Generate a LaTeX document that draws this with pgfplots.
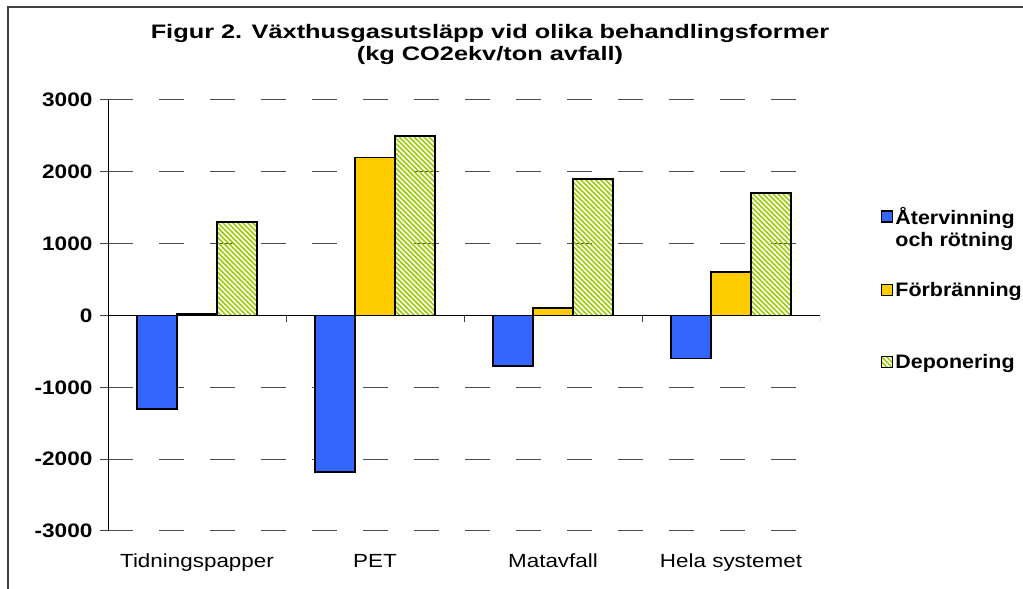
\documentclass[border=0pt]{standalone}
\usepackage{pgfplots}
\pgfplotsset{compat=1.18}
\usepackage{fontspec}
\setmainfont{Liberation Sans}[FakeStretch=1.1]
\newfontfamily\tickfont{Liberation Sans}[FakeStretch=1.16]
\newfontfamily\catfont{Liberation Sans}[FakeStretch=1.18]
\newfontfamily\titlefont{Liberation Sans}[FakeStretch=1.3]
\usetikzlibrary{patterns.meta}

\definecolor{atervinning}{HTML}{3366FF}
\definecolor{forbranning}{HTML}{FFCC00}
\definecolor{deponering}{HTML}{99CC00}

\begin{document}
\begin{tikzpicture}[x=1bp,y=1bp]
\clip (0,0) rectangle (1023,589);
% outer frame (only top and left edges are visible)
\draw[line width=1.6bp, black!75] (8,-20) -- (8,582) -- (1050,582);

\begin{axis}[
  at={(108bp,58bp)}, anchor=south west,
  scale only axis, width=712bp, height=431bp,
  xmin=-0.5, xmax=3.5, ymin=-3000, ymax=3000,
  ybar=0pt, bar width=40bp,
  axis x line*=bottom, axis y line*=left,
  x axis line style={draw=none},
  y axis line style={black, line width=1bp},
  xtick={0,1,2,3},
  xticklabels={Tidningspapper,PET,Matavfall,Hela systemet},
  xtick style={draw=none},
  xticklabel style={font=\catfont\fontsize{19bp}{22bp}\selectfont, anchor=base, yshift=-29bp},
  ytick={-3000,-2000,...,3000},
  ytick style={black!75, line width=1bp},
  tick align=outside, major tick length=8bp,
  yticklabel style={font=\tickfont\bfseries\fontsize{19.5bp}{22bp}\selectfont, xshift=-4bp,
    /pgf/number format/1000 sep={}, /pgf/number format/assume math mode=true},
  ymajorgrids,
  grid style={black!70, line width=1bp, dash pattern=on 25bp off 26bp},
  legend style={at={(1.0857,0.7566)}, anchor=north west, draw=none, fill=none,
    inner sep=0pt, row sep=52.5bp,
    font=\bfseries\fontsize{19.5bp}{22bp}\selectfont,
    nodes={align=left, inner sep=2bp}},
  legend cell align=left,
  legend image code/.code={\draw[#1, line width=1.2bp] (0bp,-5.5bp) rectangle (11bp,5.5bp);},
]
\addplot[draw=black, line width=1.8bp, fill=atervinning]
  coordinates {(0,-1300) (1,-2180) (2,-700) (3,-600)};
\addlegendentry{\rlap{\raisebox{-22bp}[0pt][0pt]{och rötning}}Återvinning}
\addplot[draw=black, line width=1.8bp, fill=forbranning]
  coordinates {(0,20) (1,2200) (2,100) (3,600)};
\addlegendentry{Förbränning}
\addplot[draw=black, line width=1.8bp,
  pattern={Lines[angle=-45,distance=3.5bp,line width=1.6bp]}, pattern color=deponering]
  coordinates {(0,1300) (1,2500) (2,1900) (3,1700)};
\addlegendentry{Deponering}

% zero line with category separators
\draw[black, line width=1.5bp] (axis cs:-0.5,0) -- (axis cs:3.5,0);
\pgfplotsinvokeforeach{0.5,1.5,2.5,3.5}{
  \draw[black!75, line width=1bp] (axis cs:#1,0) -- (axis cs:#1,-85);
}
\end{axis}

\node[font=\titlefont\bfseries\fontsize{19.5bp}{22bp}\selectfont, align=center]
  at (490,544) {Figur 2. Växthusgasutsläpp vid olika behandlingsformer\\(kg CO2ekv/ton avfall)};
\end{tikzpicture}
\end{document}
